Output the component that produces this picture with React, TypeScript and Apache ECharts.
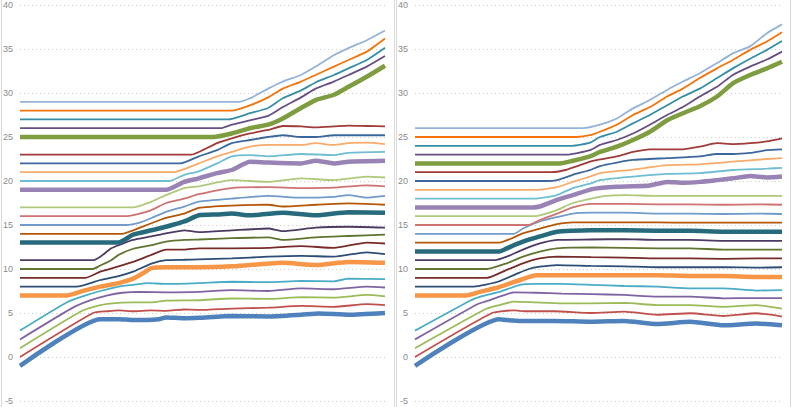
import React, { useEffect, useRef } from "react";
import * as echarts from "echarts";

// y axis ticks (value axis)
const Y_MIN = -5;
const Y_MAX = 40;
const Y_STEP = 5;

// Excel (Office 2007/2010 theme) series colours, in series order
const COLORS = [
  "#4F81BD", "#C0504D", "#9BBB59", "#8064A2", "#4BACC6", "#F79646",
  "#2C4D75", "#772C2A", "#5F7530", "#4D3B62", "#276A7C", "#B65708",
  "#729ACA", "#CD7371", "#AFC97A", "#9983B5", "#6FBDD1", "#F9AB6B",
  "#3B679C", "#9F3B38", "#7E9D40", "#664F83", "#358EA6", "#F3740B",
  "#95B3D7",
];

// series drawn as thick lines (index in series order)
const THICK = [0, 5, 10, 15, 20];

// left chart: [position (0-100), value] points per series
const LEFT_LINES: number[][][] = [
  [[0, -1], [22, 4.3], [27, 4.3], [31, 4.2], [38, 4.3], [40, 4.5], [45, 4.4], [49, 4.45], [58, 4.65], [68, 4.6], [77, 4.8], [82, 4.95], [90, 4.8], [100, 5.0]],
  [[0, 0], [20, 5.0], [24, 5.2], [27, 5.3], [31, 5.2], [36, 5.3], [40, 5.25], [45, 5.4], [49, 5.35], [58, 5.5], [68, 5.6], [77, 5.8], [86, 5.7], [95, 6.0], [100, 5.9]],
  [[0, 1], [17, 5.25], [22, 5.9], [27, 6.15], [31, 6.2], [36, 6.2], [40, 6.4], [49, 6.45], [58, 6.65], [68, 6.6], [77, 6.8], [86, 6.75], [95, 7.05], [100, 6.9]],
  [[0, 2], [14, 5.5], [19, 6.4], [24, 7.0], [28, 7.3], [33, 7.4], [40, 7.35], [49, 7.4], [58, 7.6], [68, 7.5], [77, 7.8], [86, 7.7], [95, 8.0], [100, 7.9]],
  [[0, 3], [13, 6.25], [18, 7.0], [22, 7.5], [27, 8.0], [31, 8.2], [35, 8.4], [40, 8.3], [49, 8.4], [58, 8.55], [68, 8.5], [77, 8.65], [86, 8.6], [90, 8.9], [100, 8.85]],
  [[0, 7], [13, 7], [18, 7.6], [22, 8.0], [27, 8.4], [31, 8.9], [34, 9.6], [36, 10.1], [40, 10.2], [45, 10.2], [49, 10.2], [58, 10.3], [63, 10.45], [72, 10.7], [81, 10.45], [90, 10.8], [100, 10.7]],
  [[0, 8], [15.5, 8], [22, 8.75], [27, 9.2], [31, 9.7], [36, 10.6], [40, 11.0], [45, 11.05], [49, 11.1], [58, 11.2], [68, 11.4], [77, 11.5], [86, 11.4], [95, 11.9], [100, 11.7]],
  [[0, 9], [18, 9], [22, 9.7], [27, 10.3], [31, 10.8], [36, 11.6], [40, 12.2], [45, 12.2], [49, 12.35], [58, 12.35], [68, 12.4], [77, 12.6], [86, 12.4], [95, 13.0], [100, 12.9]],
  [[0, 10], [20, 10], [22, 10.4], [25, 11.0], [27, 11.6], [31, 12.3], [36, 12.7], [40, 13.1], [45, 13.3], [49, 13.35], [58, 13.5], [68, 13.6], [72, 13.3], [81, 13.6], [90, 13.75], [100, 13.9]],
  [[0, 11], [20, 11], [22, 11.4], [25, 12.35], [27, 12.7], [31, 13.3], [36, 13.7], [40, 14.05], [45, 14.4], [49, 14.2], [58, 14.4], [68, 14.6], [72, 14.3], [81, 14.7], [90, 14.8], [100, 14.7]],
  [[0, 13], [27, 13], [31, 13.9], [36, 14.4], [40, 14.8], [45, 15.4], [49, 16.1], [54, 16.2], [58, 16.3], [63, 16.1], [72, 16.4], [81, 16.1], [90, 16.45], [100, 16.4]],
  [[0, 14], [28, 14], [31, 14.4], [36, 15.2], [40, 15.8], [45, 16.3], [49, 16.95], [58, 17.2], [68, 17.3], [72, 17.1], [81, 17.3], [90, 17.45], [100, 17.3]],
  [[0, 15], [29, 15], [33, 15.3], [36, 15.8], [40, 16.5], [45, 17.1], [49, 17.65], [58, 18.0], [68, 18.3], [77, 18.1], [86, 18.2], [90, 18.4], [95, 18.1], [100, 18.3]],
  [[0, 16], [29, 16], [32, 16.2], [36, 16.7], [40, 17.5], [45, 18.0], [49, 18.5], [58, 19.2], [68, 19.3], [77, 19.2], [86, 19.25], [95, 19.5], [100, 19.4]],
  [[0, 17], [31, 17], [36, 17.65], [40, 18.4], [45, 19.2], [49, 19.4], [58, 20.1], [68, 19.9], [77, 20.3], [86, 20.1], [95, 20.5], [100, 20.4]],
  [[0, 19], [40, 19], [45, 19.9], [49, 20.3], [54, 20.9], [58, 21.25], [63, 22.2], [68, 22.1], [77, 22.0], [81, 22.3], [86, 22.0], [90, 22.2], [100, 22.3]],
  [[0, 20], [41, 20], [45, 20.7], [49, 21.1], [54, 22.0], [58, 22.8], [63, 22.95], [68, 22.8], [77, 23.07], [86, 22.95], [90, 23.2], [100, 23.3]],
  [[0, 21], [42, 21], [49, 22.0], [54, 22.8], [58, 23.3], [63, 23.9], [68, 24.1], [77, 24.1], [81, 24.3], [86, 24.1], [90, 24.3], [95, 24.35], [100, 24.2]],
  [[0, 22], [44, 22], [49, 22.8], [54, 23.5], [58, 24.3], [63, 24.66], [68, 25.0], [72, 25.2], [77, 25.0], [81, 25.0], [86, 25.2], [100, 25.2]],
  [[0, 23], [47, 23], [49, 23.3], [54, 24.3], [58, 24.85], [63, 25.4], [68, 25.8], [72, 26.25], [77, 26.2], [81, 26.1], [86, 26.2], [90, 26.3], [95, 26.25], [100, 26.2]],
  [[0, 25], [53, 25], [58, 25.4], [63, 26.0], [68, 26.4], [72, 27.1], [77, 28.3], [81, 29.2], [86, 29.8], [90, 30.7], [95, 31.85], [100, 33.1]],
  [[0, 26], [55, 26], [58, 26.4], [63, 26.9], [68, 27.4], [72, 28.4], [77, 29.5], [81, 30.5], [86, 31.3], [90, 32.05], [95, 33.0], [100, 34.2]],
  [[0, 27], [57, 27], [63, 27.7], [68, 28.3], [72, 29.4], [77, 30.3], [81, 31.2], [86, 32.05], [90, 32.8], [95, 33.75], [100, 35.15]],
  [[0, 28], [58, 28], [63, 28.6], [68, 29.5], [72, 30.5], [77, 31.3], [81, 32.05], [86, 33.0], [90, 33.75], [95, 34.7], [100, 36.2]],
  [[0, 29], [60, 29], [63, 29.4], [68, 30.5], [72, 31.3], [77, 32.05], [81, 33.0], [86, 34.3], [90, 35.1], [95, 36.0], [100, 37.1]],
];

// right chart: [position (0-100), value] points per series
const RIGHT_LINES: number[][][] = [
  [[0, -1], [23, 4.3], [25, 4.2], [29, 4.1], [38, 4.1], [48, 4.0], [57, 4.1], [66, 3.75], [75, 4.0], [84, 3.6], [93, 3.8], [100, 3.6]],
  [[0, 0], [21, 5.0], [27, 5.3], [30, 5.2], [38, 5.2], [48, 5.0], [57, 5.15], [66, 4.8], [75, 4.97], [84, 4.66], [93, 4.97], [100, 4.6]],
  [[0, 1], [19, 5.4], [23, 5.9], [27, 6.3], [33, 6.2], [40, 6.1], [48, 6.1], [57, 6.15], [66, 5.9], [75, 5.9], [84, 5.7], [93, 5.9], [100, 5.5]],
  [[0, 2], [17, 6.0], [20, 6.4], [23, 6.85], [27, 7.35], [33, 7.3], [40, 7.2], [48, 7.15], [57, 7.05], [66, 6.85], [75, 6.85], [84, 6.67], [93, 6.7], [100, 6.7]],
  [[0, 3], [15, 6.4], [18, 6.9], [23, 7.4], [28.6, 8.2], [33, 8.3], [40, 8.3], [48, 8.2], [57, 8.07], [66, 8.0], [75, 7.8], [84, 7.8], [93, 7.55], [100, 7.6]],
  [[0, 7], [14, 7], [17.7, 7.4], [22.6, 7.9], [28.6, 8.75], [33, 9.3], [40, 9.3], [48, 9.3], [57, 9.3], [66, 9.3], [75, 9.2], [84, 9.2], [93, 9.1], [100, 9.1]],
  [[0, 8], [16, 8], [22.6, 8.55], [28, 9.5], [31, 10.0], [34, 10.26], [38.7, 10.45], [48, 10.35], [57, 10.3], [66, 10.2], [75, 10.2], [84, 10.2], [93, 10.15], [100, 10.2]],
  [[0, 9], [19.6, 9], [25, 9.9], [29.4, 10.65], [34, 11.2], [38.7, 11.4], [48, 11.35], [57, 11.3], [66, 11.2], [75, 11.2], [84, 11.15], [93, 11.2], [100, 11.2]],
  [[0, 10], [19.6, 10], [25, 10.65], [29.4, 11.4], [34, 11.97], [38.7, 12.35], [48, 12.45], [57, 12.4], [66, 12.35], [75, 12.35], [84, 12.2], [93, 12.2], [100, 12.2]],
  [[0, 11], [21.8, 11], [25, 11.4], [29.4, 12.2], [34, 12.9], [38.7, 13.3], [48, 13.35], [57, 13.4], [66, 13.3], [75, 13.3], [84, 13.2], [93, 13.2], [100, 13.2]],
  [[0, 12], [23, 12], [25, 12.35], [29.4, 13.1], [34, 13.7], [38.7, 14.24], [43, 14.35], [48, 14.4], [57, 14.4], [66, 14.35], [75, 14.35], [84, 14.24], [93, 14.24], [100, 14.24]],
  [[0, 13], [23, 13], [29.4, 14.05], [34, 14.6], [38.7, 15.1], [43, 15.3], [48, 15.3], [57, 15.3], [66, 15.3], [75, 15.26], [84, 15.26], [93, 15.26], [100, 15.26]],
  [[0, 14], [27, 14], [29.4, 14.6], [34, 15.4], [38.7, 15.9], [43, 16.3], [48, 16.4], [57, 16.4], [66, 16.3], [75, 16.3], [84, 16.25], [93, 16.3], [100, 16.25]],
  [[0, 15], [31, 15], [34, 15.57], [38.7, 16.3], [43, 17.0], [48, 17.4], [57, 17.4], [66, 17.35], [75, 17.35], [84, 17.3], [93, 17.35], [100, 17.3]],
  [[0, 16], [32, 16], [34, 16.1], [38.7, 16.7], [43, 17.5], [48, 18.0], [52, 18.3], [57, 18.4], [66, 18.3], [75, 18.3], [84, 18.3], [93, 18.3], [100, 18.3]],
  [[0, 17], [32, 17], [34, 17.1], [38.7, 17.85], [43, 18.4], [48, 19.05], [50.4, 19.2], [55, 19.35], [59.4, 19.4], [64, 19.5], [68.7, 19.9], [73, 19.8], [77.6, 19.9], [82.3, 20.1], [86.6, 20.3], [91.3, 20.57], [95.9, 20.4], [100, 20.5]],
  [[0, 18], [33, 18], [38.7, 18.4], [43, 19.2], [47.7, 19.7], [50.4, 20.1], [59.4, 20.5], [68.7, 20.8], [77.6, 20.9], [86.6, 21.25], [95.9, 21.4], [100, 21.5]],
  [[0, 19], [33, 19], [38.7, 19.3], [43, 19.9], [47.7, 20.5], [50.4, 20.9], [59.4, 21.3], [68.7, 21.8], [77.6, 21.9], [86.6, 22.2], [95.9, 22.5], [100, 22.6]],
  [[0, 20], [36, 20], [38.7, 20.1], [43, 20.7], [47.7, 21.25], [50.4, 21.7], [55, 22.1], [59.4, 22.4], [68.7, 22.6], [77.6, 22.8], [82.3, 23.07], [86.6, 23.07], [91.3, 23.2], [95.9, 23.5], [100, 23.6]],
  [[0, 21], [37, 21], [41, 21.25], [45, 21.8], [47.7, 22.2], [50.4, 22.45], [55, 22.8], [59.4, 23.3], [64, 23.6], [68.7, 23.6], [73, 23.6], [77.6, 23.9], [82.3, 24.3], [86.6, 24.2], [91.3, 24.3], [95.9, 24.5], [100, 24.85]],
  [[0, 22], [39.5, 22], [43, 22.3], [47.7, 22.8], [50.4, 23.3], [55, 23.9], [59.4, 24.66], [64, 25.6], [68.7, 26.9], [73, 27.7], [77.6, 28.5], [82.3, 29.6], [86.6, 31.1], [91.3, 32.05], [95.9, 32.8], [100, 33.55]],
  [[0, 23], [41.4, 23], [47.7, 23.5], [50.4, 24.1], [55, 24.66], [59.4, 25.4], [64, 26.4], [68.7, 27.5], [73, 28.4], [77.6, 29.6], [82.3, 30.7], [86.6, 32.05], [91.3, 33.0], [95.9, 33.8], [100, 34.7]],
  [[0, 24], [42.8, 24], [47.7, 24.35], [50.4, 25.0], [55, 25.6], [59.4, 26.55], [64, 27.5], [68.7, 28.6], [73, 29.6], [77.6, 30.5], [82.3, 31.7], [86.6, 32.8], [91.3, 33.9], [95.9, 34.9], [100, 35.9]],
  [[0, 25], [44, 25], [47.7, 25.2], [50.4, 25.6], [55, 26.4], [59.4, 27.5], [64, 28.4], [68.7, 29.6], [73, 30.5], [77.6, 31.7], [82.3, 32.8], [86.6, 33.75], [91.3, 34.9], [95.9, 35.85], [100, 36.9]],
  [[0, 26], [45.8, 26], [50.4, 26.4], [55, 27.1], [59.4, 28.25], [64, 29.2], [68.7, 30.35], [73, 31.3], [77.6, 32.25], [82.3, 33.4], [86.6, 34.5], [91.3, 35.3], [95.9, 36.8], [100, 37.8]],
];

const FONT = "'Liberation Sans', 'DejaVu Sans', sans-serif";

export default function App() {
  const ref = useRef<HTMLDivElement>(null);

  useEffect(() => {
    if (!ref.current) return;
    const chart = echarts.init(ref.current, null, { renderer: "svg" });

    const yAxis = (gridIndex: number) => ({
      type: "value" as const,
      gridIndex,
      min: Y_MIN,
      max: Y_MAX,
      interval: Y_STEP,
      axisLine: { show: false },
      axisTick: { show: false },
      axisLabel: { color: "#8a8a8a", fontSize: 9, margin: 7, fontFamily: FONT },
      splitLine: { show: true, lineStyle: { type: [1, 3] as any, color: "#cccccc", width: 1 } },
    });
    const xAxis = (gridIndex: number) => ({
      type: "value" as const,
      gridIndex,
      min: 0,
      max: 100,
      show: false,
      splitLine: { show: false },
    });

    const makeSeries = (lines: number[][][], idx: number) =>
      lines.map((data, i) => ({
        type: "line" as const,
        xAxisIndex: idx,
        yAxisIndex: idx,
        data,
        smooth: 0.18,
        symbol: "none",
        showSymbol: false,
        silent: true,
        z: 2 + i * 0.01,
        lineStyle: { color: COLORS[i], width: THICK.includes(i) ? 4.5 : 1.8 },
        itemStyle: { color: COLORS[i] },
      }));

    chart.setOption({
      animation: false,
      backgroundColor: "#ffffff",
      grid: [
        { left: 20, right: 415, top: 5, bottom: 6, containLabel: false },
        { left: 415, right: 18, top: 5, bottom: 6, containLabel: false },
      ],
      xAxis: [xAxis(0), xAxis(1)],
      yAxis: [yAxis(0), yAxis(1)],
      series: [...makeSeries(LEFT_LINES, 0), ...makeSeries(RIGHT_LINES, 1)],
      graphic: [
        { type: "line", shape: { x1: 1.5, y1: 0, x2: 1.5, y2: 407 }, style: { stroke: "#d9d9d9", lineWidth: 1 }, silent: true },
        { type: "line", shape: { x1: 394.5, y1: 0, x2: 394.5, y2: 407 }, style: { stroke: "#d9d9d9", lineWidth: 1 }, silent: true },
        { type: "line", shape: { x1: 396.5, y1: 0, x2: 396.5, y2: 407 }, style: { stroke: "#d9d9d9", lineWidth: 1 }, silent: true },
        { type: "line", shape: { x1: 790.5, y1: 0, x2: 790.5, y2: 407 }, style: { stroke: "#d9d9d9", lineWidth: 1 }, silent: true },
      ],
    });

    return () => chart.dispose();
  }, []);

  return (
    <div
      ref={ref}
      style={{ position: "absolute", left: 0, top: 0, width: 800, height: 407 }}
    />
  );
}
